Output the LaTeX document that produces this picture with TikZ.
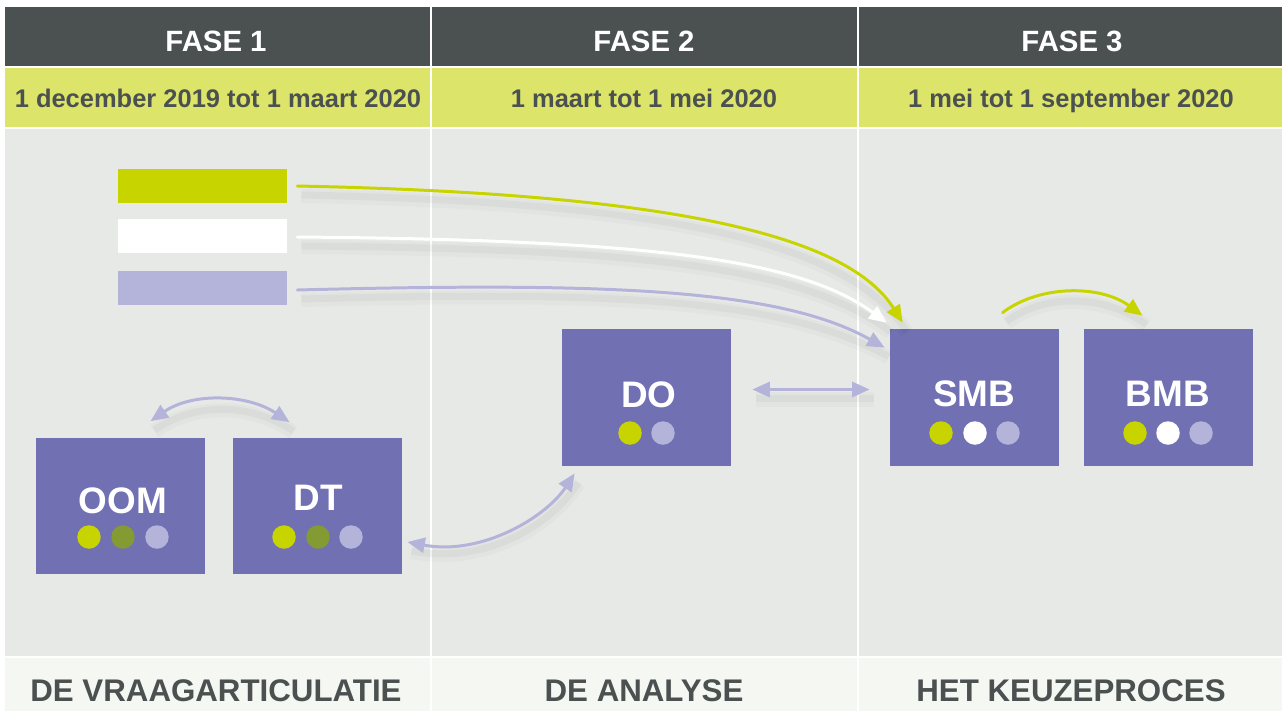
\documentclass[tikz,border=0pt]{standalone}
\usepackage{fontspec}
\setmainfont{Liberation Sans}
\usetikzlibrary{arrows.meta,calc}
\definecolor{hdr}{HTML}{4A5150}
\definecolor{dateyel}{HTML}{DDE46A}
\definecolor{bodygray}{HTML}{E7E9E6}
\definecolor{foot}{HTML}{F5F7F3}
\definecolor{boxpurple}{HTML}{7070B3}
\definecolor{lime}{HTML}{C8D400}
\definecolor{olive}{HTML}{849A33}
\definecolor{lav}{HTML}{B4B4DA}
\definecolor{txtgray}{HTML}{4A5150}
\tikzset{
  cell/.style={draw=none, inner sep=0pt, minimum width=#1*0.02cm},
  hdrcell/.style={cell=#1, fill=hdr, minimum height=1.18cm},
  hdrtext/.style={anchor=base, inner sep=0pt, text=white,
    font=\fontsize{16.7}{17}\selectfont\bfseries},
  datecell/.style={cell=#1, fill=dateyel, minimum height=1.18cm},
  datetext/.style={anchor=base, inner sep=0pt, text=txtgray,
    font=\fontsize{14.5}{15}\selectfont\bfseries},
  bodycell/.style={cell=#1, fill=bodygray, minimum height=10.54cm},
  footcell/.style={cell=#1, fill=foot, minimum height=1.06cm},
  foottext/.style={anchor=base, text=txtgray, font=\fontsize{17.8}{18}\selectfont\bfseries, inner sep=0pt},
  bar/.style={draw=none, inner sep=0pt, minimum width=3.38cm, minimum height=0.68cm},
  mbox/.style={draw=none, fill=boxpurple, inner sep=0pt, minimum width=3.38cm, minimum height=2.74cm},
  mlabel/.style={anchor=base, text=white, font=\fontsize{21}{21}\selectfont\bfseries, inner sep=0pt},
  dot/.style={circle, fill=#1, draw=none, inner sep=0pt, minimum size=0.47cm},
  shad/.style={preaction={draw=black, draw opacity=0.02, line width=8pt, arrows=-,
      transform canvas={shift={(4,10)}}},
    preaction={draw=black, draw opacity=0.03, line width=4pt, arrows=-,
      transform canvas={shift={(4,9)}}}},
  conn/.style={shad, draw=#1, line width=1.7pt, line cap=round,
    -{Triangle[length=0.35cm,width=0.3cm]}},
  dconn/.style={shad, draw=#1, line width=1.7pt, line cap=round,
    {Triangle[length=0.35cm,width=0.3cm]}-{Triangle[length=0.35cm,width=0.3cm]}},
}
\begin{document}
\begin{tikzpicture}[x=0.02cm,y=-0.02cm]
\useasboundingbox (0,0) rectangle (1282,711);
\fill[white] (0,0) rectangle (1282,711);
% header row
\node[hdrcell=425] (h1) at (217.5,36.5) {};
\node[hdrcell=425] (h2) at (644.5,36.5) {};
\node[hdrcell=423] (h3) at (1070.5,36.5) {};
\node[hdrtext] (h1t) at (216,51) {FASE 1};
\node[hdrtext] (h2t) at (644,51) {FASE 2};
\node[hdrtext] (h3t) at (1072,51) {FASE 3};
% date row
\node[datecell=425] (d1) at (217.5,97.5) {};
\node[datecell=425] (d2) at (644.5,97.5) {};
\node[datecell=423] (d3) at (1070.5,97.5) {};
\node[datetext] (d1t) at (218,107) {1 december 2019 tot 1 maart 2020};
\node[datetext] (d2t) at (644,107) {1 maart tot 1 mei 2020};
\node[datetext] (d3t) at (1071,107) {1 mei tot 1 september 2020};
% body
\node[bodycell=425] (b1) at (217.5,392.5) {};
\node[bodycell=425] (b2) at (644.5,392.5) {};
\node[bodycell=423] (b3) at (1070.5,392.5) {};
% footer
\node[footcell=425] (f1) at (217.5,684.5) {};
\node[footcell=425] (f2) at (644.5,684.5) {};
\node[footcell=423] (f3) at (1070.5,684.5) {};
\node[foottext] (t1) at (216,701) {DE VRAAGARTICULATIE};
\node[foottext] (t2) at (644,701) {DE ANALYSE};
\node[foottext] (t3) at (1071,701) {HET KEUZEPROCES};
% bars
\node[bar, fill=lime] (gbar) at (202.5,186) {};
\node[bar, fill=white] (wbar) at (202.5,236) {};
\node[bar, fill=lav] (lbar) at (202.5,288) {};
% boxes
\node[mbox] (oom) at (120.5,506) {};
\node[mbox] (dt) at (317.5,506) {};
\node[mbox] (do) at (646.5,397.5) {};
\node[mbox] (smb) at (974.5,397.5) {};
\node[mbox] (bmb) at (1168.5,397.5) {};
% labels
\node[mlabel] (oomt) at (123,513) {OOM};
\node[mlabel] (dtt) at (318,510) {DT};
\node[mlabel] (dot_) at (649,407) {DO};
\node[mlabel] (smbt) at (974,406) {SMB};
\node[mlabel] (bmbt) at (1168,406) {BMB};
% dots
\node[dot=lime] (o1) at (89,537) {};
\node[dot=olive] (o2) at (123,537) {};
\node[dot=lav] (o3) at (157,537) {};
\node[dot=lime] (t1d) at (284,537) {};
\node[dot=olive] (t2d) at (318,537) {};
\node[dot=lav] (t3d) at (351,537) {};
\node[dot=lime] (do1) at (630,433) {};
\node[dot=lav] (do2) at (663,433) {};
\node[dot=lime] (s1) at (941,433) {};
\node[dot=white] (s2) at (975,433) {};
\node[dot=lav] (s3) at (1008,433) {};
\node[dot=lime] (m1) at (1135,433) {};
\node[dot=white] (m2) at (1168,433) {};
\node[dot=lav] (m3) at (1201,433) {};
% connectors
\draw[conn=lime] ($(gbar.east)+(10,0)$) .. controls ($(gbar.east)+(400,8)$) and ($(smb.north west)+(-40,-90)$) .. ($(smb.north west)+(13,-6)$);
\draw[conn=white] ($(wbar.east)+(10,1)$) .. controls ($(wbar.east)+(360,4)$) and ($(smb.north west)+(-90,-70)$) .. ($(smb.north west)+(-3,-6)$);
\draw[conn=lav] ($(lbar.east)+(10,2)$) .. controls ($(lbar.east)+(320,-6)$) and ($(smb.north west)+(-110,-40)$) .. ($(smb.north west)+(-5,19)$);
\draw[conn=lime] ($(smb.north)+(28,-16)$) .. controls ($(smb.north)+(65,-44)$) and ($(bmb.north)+(-68,-44)$) .. ($(bmb.north)+(-26,-13)$);
\draw[dconn=lav] ($(do.east)+(21,-8)$) -- ($(smb.west)+(-20,-8)$);
\draw[dconn=lav] ($(oom.north)+(30,-16)$) .. controls ($(oom.north)+(72,-45)$) and ($(dt.north)+(-70,-43)$) .. ($(dt.north)+(-28,-15)$);
\draw[dconn=lav] ($(dt.east)+(5,36)$) .. controls ($(dt.east)+(80,50)$) and ($(do.south west)+(-15,50)$) .. ($(do.south west)+(13,7)$);
\end{tikzpicture}
\end{document}
